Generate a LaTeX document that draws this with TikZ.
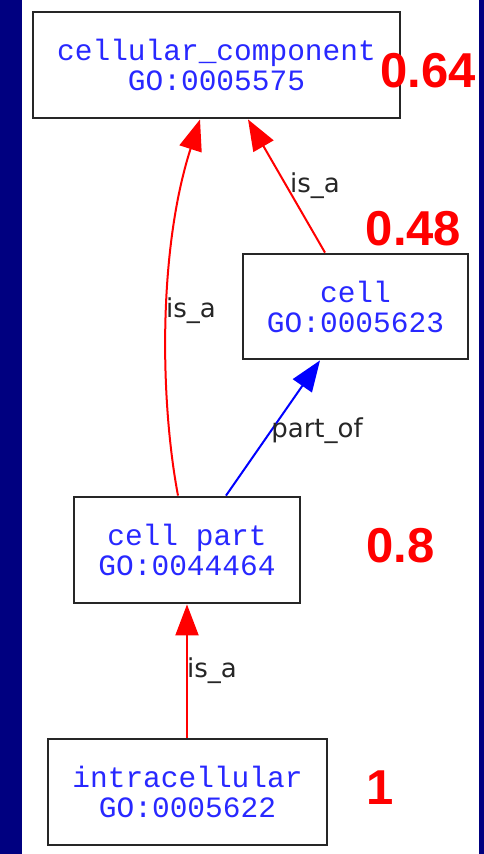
\documentclass[tikz,border=0pt]{standalone}
\usepackage{fontspec}
\usetikzlibrary{arrows.meta}
\newfontfamily\monof{Liberation Mono}
\newfontfamily\labf{DejaVu Sans}
\newfontfamily\numf{Liberation Sans}
\definecolor{frame}{RGB}{0,0,128}
\definecolor{termblue}{RGB}{40,40,255}
\tikzset{
  term/.style={draw=black!85, line width=2.8pt, fill=white, inner sep=0pt,
    text=termblue, align=center,
    font=\monof\fontsize{29.5}{30}\selectfont},
  rel/.style={line width=2pt, -{Triangle[length=31pt,width=23pt]}},
  isa/.style={rel, red},
  partof/.style={rel, blue},
  elab/.style={font=\labf\fontsize{26}{28}\selectfont, text=black!85, anchor=base, inner sep=0pt},
  score/.style={font=\numf\bfseries\fontsize{49}{52}\selectfont, text=red, anchor=base, inner sep=0pt}
}
\begin{document}
\begin{tikzpicture}[x=1pt,y=-1pt]
\fill[frame] (0,0) rectangle (484,854);
\fill[white] (22,0) rectangle (479,854);
\useasboundingbox (0,0) rectangle (484,854);

\node[term, minimum width=367pt, minimum height=106pt] (cc) at (216.5,65) {cellular\_component\\GO:0005575};
\node[term, minimum width=225pt, minimum height=105pt] (cell) at (355.5,306.5) {cell\\GO:0005623};
\node[term, minimum width=226pt, minimum height=106pt] (cellpart) at (187,550) {cell part\\GO:0044464};
\node[term, minimum width=279pt, minimum height=106pt] (intra) at (187.5,792) {intracellular\\GO:0005622};

\draw[isa] ([xshift=-9pt]cellpart.north) .. controls (160,400) and (158,250) .. ([xshift=-16.5pt]cc.south);
\draw[isa] ([xshift=-30.5pt]cell.north) -- ([xshift=31.5pt]cc.south);
\draw[partof] ([xshift=39pt]cellpart.north) -- ([xshift=-35.5pt]cell.south);
\draw[isa] ([xshift=-0.5pt]intra.north) -- (cellpart.south);

\node[elab] (l1) at (191,317) {is\_a};
\node[elab] (l2) at (315,192) {is\_a};
\node[elab] (l3) at (317,437) {part\_of};
\node[elab] (l4) at (212,677) {is\_a};

\node[score] (s1) at (428,87) {0.64};
\node[score] (s2) at (413.5,245) {0.48};
\node[score] (s3) at (400.5,562) {0.8};
\node[score] (s4) at (380,804) {1};
\end{tikzpicture}
\end{document}
